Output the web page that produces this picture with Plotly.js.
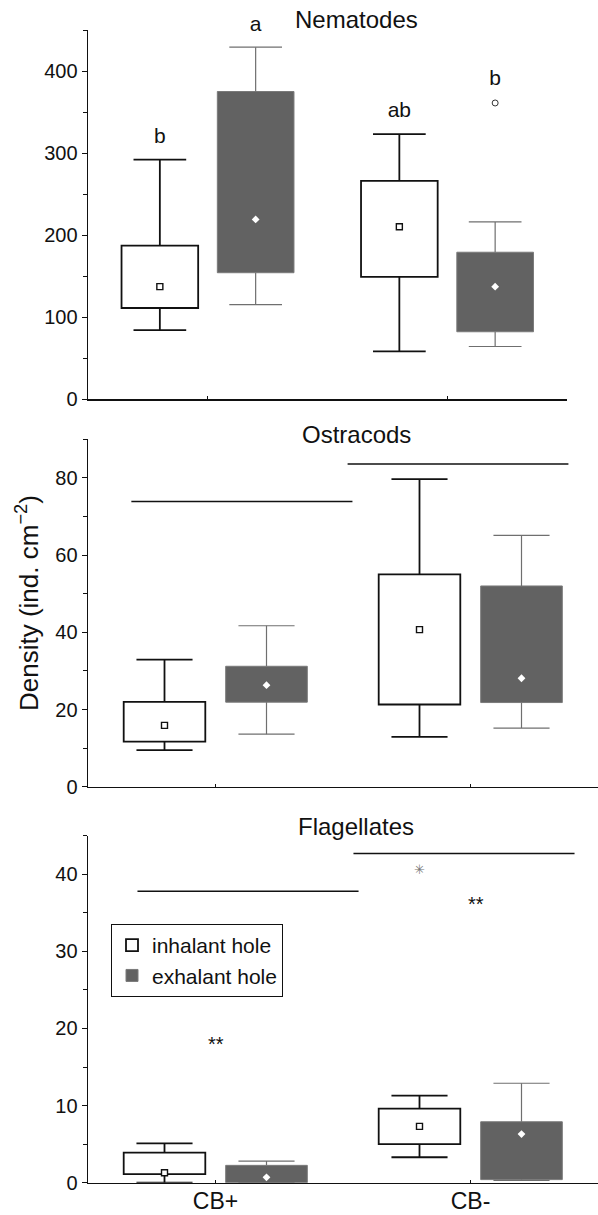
<!DOCTYPE html>
<html>
<head>
<meta charset="utf-8">
<script src="https://cdn.plot.ly/plotly-3.0.1.min.js"></script>
<style>html,body{margin:0;padding:0;background:#fff;}#chart{width:598px;height:1215px;}</style>
</head>
<body>
<div id="chart"></div>
<script>
// ---------- data ----------
const categories = ['CB+', 'CB-'];
const groupNames = ['inhalant hole', 'exhalant hole'];
const panelTitles = ['Nematodes', 'Ostracods', 'Flagellates'];

// Nematodes (values per category CB+, CB-)
const nemInhMin = [84, 58],   nemInhQ1 = [111, 149], nemInhMed = [137, 210], nemInhQ3 = [187, 266], nemInhMax = [292, 323];
const nemExhMin = [115, 64],  nemExhQ1 = [154, 82],  nemExhMed = [219, 137], nemExhQ3 = [375, 179], nemExhMax = [429, 216];
const nemExhOutlier = [null, 361];
const nemLetters = ['b', 'a', 'ab', 'b'];          // inh CB+, exh CB+, inh CB-, exh CB-
const nemLetterBase = [306, 442, 337, 377];        // level of the letters' baseline

// Ostracods
const ostInhMin = [9.5, 12.9],  ostInhQ1 = [11.7, 21.3], ostInhMed = [15.9, 40.7], ostInhQ3 = [22.0, 55.0], ostInhMax = [32.9, 79.7];
const ostExhMin = [13.6, 15.2], ostExhQ1 = [21.9, 21.8], ostExhMed = [26.3, 28.1], ostExhQ3 = [31.2, 52.0], ostExhMax = [41.7, 65.1];
const ostLineX0 = [-0.33, 0.518], ostLineX1 = [0.537, 1.384], ostLineY = [73.9, 83.6];

// Flagellates
const flaInhMin = [0, 3.3], flaInhQ1 = [1.1, 5.0], flaInhMed = [1.3, 7.3], flaInhQ3 = [3.9, 9.6], flaInhMax = [5.1, 11.3];
const flaExhMin = [0, 0.3], flaExhQ1 = [0, 0.4],   flaExhMed = [0.7, 6.3], flaExhQ3 = [2.25, 7.9], flaExhMax = [2.8, 12.9];
const flaLineX0 = [-0.306, 0.541], flaLineX1 = [0.561, 1.408], flaLineY = [37.8, 42.7];
const flaMarks = ['**', '✳', '**'], flaMarkX = [0, 0.8, 1.02], flaMarkY = [18.0, 40.6, 36.1];

// ---------- style ----------
const FONT = 'Liberation Sans, Arial, Helvetica, sans-serif';
const OFFSET = 0.2, BOXW = 0.32, CAP = 0.11;
const DARK = '#626262';
const catIdx = categories.map((c, i) => i);

function boxSet(axisNum, mins, q1, med, q3, max, isDark, showLegend) {
  const xa = axisNum === 1 ? 'x' : 'x' + axisNum;
  const ya = axisNum === 1 ? 'y' : 'y' + axisNum;
  const pos = catIdx.map(i => i + (isDark ? OFFSET : -OFFSET));
  const lineCol = isDark ? '#6f6f6f' : '#111';
  const lineW = isDark ? 1.2 : 1.8;
  const traces = [];
  const wx = [], wy = [];
  pos.forEach((p, i) => {
    wx.push(p, p, null, p - CAP, p + CAP, null, p, p, null, p - CAP, p + CAP, null);
    wy.push(q3[i], max[i], null, max[i], max[i], null, q1[i], mins[i], null, mins[i], mins[i], null);
  });
  traces.push({type: 'scatter', mode: 'lines', x: wx, y: wy, xaxis: xa, yaxis: ya,
    line: {color: lineCol, width: lineW}, showlegend: false, hoverinfo: 'skip', cliponaxis: false});
  traces.push({type: 'bar', x: pos, base: q1, y: q3.map((v, i) => v - q1[i]), width: BOXW,
    xaxis: xa, yaxis: ya, name: groupNames[isDark ? 1 : 0], legendgroup: groupNames[isDark ? 1 : 0],
    showlegend: showLegend,
    marker: {color: isDark ? DARK : '#ffffff', line: {color: isDark ? '#7a7a7a' : '#111', width: isDark ? 1 : 1.8}}});
  traces.push({type: 'scatter', mode: 'markers', x: pos, y: med, xaxis: xa, yaxis: ya, showlegend: false,
    cliponaxis: false,
    marker: isDark ? {symbol: 'diamond', size: 6, color: '#ffffff', line: {width: 0}}
                   : {symbol: 'square', size: 6, color: '#ffffff', line: {color: '#111', width: 1.4}}});
  return traces;
}

const data = [];
data.push(...boxSet(1, nemInhMin, nemInhQ1, nemInhMed, nemInhQ3, nemInhMax, false, false));
data.push(...boxSet(1, nemExhMin, nemExhQ1, nemExhMed, nemExhQ3, nemExhMax, true, false));
data.push({type: 'scatter', mode: 'markers', x: catIdx.map(i => i + OFFSET), y: nemExhOutlier,
  xaxis: 'x', yaxis: 'y', showlegend: false, cliponaxis: false,
  marker: {symbol: 'circle-open', size: 6, color: '#333', line: {width: 1}}});
data.push(...boxSet(2, ostInhMin, ostInhQ1, ostInhMed, ostInhQ3, ostInhMax, false, false));
data.push(...boxSet(2, ostExhMin, ostExhQ1, ostExhMed, ostExhQ3, ostExhMax, true, false));
data.push(...boxSet(3, flaInhMin, flaInhQ1, flaInhMed, flaInhQ3, flaInhMax, false, true));
data.push(...boxSet(3, flaExhMin, flaExhQ1, flaExhMed, flaExhQ3, flaExhMax, true, true));

// letters over nematode boxes (drawn just above their baseline level)
const letterX = [-OFFSET, OFFSET, 1 - OFFSET, 1 + OFFSET];
data.push({type: 'scatter', mode: 'text', x: letterX, y: nemLetterBase, text: nemLetters, xaxis: 'x', yaxis: 'y',
  textposition: 'top center', cliponaxis: false, showlegend: false, hoverinfo: 'skip',
  textfont: {family: FONT, size: 21, color: '#111'}});

function sigLines(axisNum, x0, x1, y) {
  const xs = [], ys = [];
  x0.forEach((v, i) => { xs.push(v, x1[i], null); ys.push(y[i], y[i], null); });
  return {type: 'scatter', mode: 'lines', x: xs, y: ys, xaxis: 'x' + axisNum, yaxis: 'y' + axisNum,
    line: {color: '#111', width: 1.5}, showlegend: false, hoverinfo: 'skip', cliponaxis: false};
}
data.push(sigLines(2, ostLineX0, ostLineX1, ostLineY));
data.push(sigLines(3, flaLineX0, flaLineX1, flaLineY));

// ---------- layout ----------
const H = 1183;
const pyToPaper = py => (H - py) / H;
const pxToPaper = px => (px - 88) / 510;

const annotations = [];
const titleY = [20, 435, 826];
panelTitles.forEach((t, i) => annotations.push({text: t, xref: 'paper', yref: 'paper', x: pxToPaper(356), y: pyToPaper(titleY[i]),
  xanchor: 'center', yanchor: 'middle', showarrow: false, font: {family: FONT, size: 24, color: '#111'}}));
flaMarks.forEach((t, i) => annotations.push({text: t, xref: 'x3', yref: 'y3', x: flaMarkX[i], y: flaMarkY[i],
  showarrow: false, font: {family: t === '**' ? FONT : 'DejaVu Sans, sans-serif', size: t === '**' ? 20 : 13, color: t === '**' ? '#111' : '#777'}}));
annotations.push({text: 'Density (ind. cm<sup>−2</sup>)', xref: 'paper', yref: 'paper', x: pxToPaper(27), y: pyToPaper(603),
  textangle: -90, xanchor: 'center', yanchor: 'middle', showarrow: false, font: {family: FONT, size: 26, color: '#111'}});

function xAxis(domainEnd, anchor, labels) {
  return {domain: [0, domainEnd], anchor: anchor, range: [-0.5, 1.5], tickmode: 'array', tickvals: catIdx,
    ticktext: categories, showticklabels: labels, ticks: 'inside', ticklen: 3, tickwidth: 1, tickcolor: '#111',
    showline: true, linecolor: '#111', linewidth: 1.6, showgrid: false, zeroline: false, ticklabelstandoff: -3,
    tickfont: {family: FONT, size: 23, color: '#111'}, fixedrange: true};
}
function yAxis(domain, anchor, range, dtick) {
  return {domain: domain, anchor: anchor, range: range, dtick: dtick, tick0: 0, ticks: 'outside', ticklen: 5,
    tickwidth: 1, tickcolor: '#111', showline: true, linecolor: '#111', linewidth: 1.4, showgrid: false,
    zeroline: false, tickfont: {family: FONT, size: 20, color: '#111'},
    minor: {dtick: dtick / 2, tick0: 0, ticks: 'outside', ticklen: 4, tickcolor: '#111', tickwidth: 1, showgrid: false},
    fixedrange: true};
}

const layout = {
  width: 598, height: 1215,
  margin: {l: 88, r: 0, t: 0, b: 32},
  paper_bgcolor: '#ffffff', plot_bgcolor: 'rgba(0,0,0,0)',
  barmode: 'overlay',
  font: {family: FONT, color: '#111'},
  xaxis: xAxis((567 - 88) / 510, 'y', false),
  yaxis: yAxis([pyToPaper(399), pyToPaper(30)], 'x', [0, 450], 100),
  xaxis2: xAxis(1, 'y2', false),
  yaxis2: yAxis([pyToPaper(786.7), pyToPaper(439.3)], 'x2', [0, 90], 20),
  xaxis3: xAxis(1, 'y3', true),
  yaxis3: yAxis([pyToPaper(1182.7), pyToPaper(835.7)], 'x3', [0, 45], 10),
  showlegend: true,
  legend: {x: pxToPaper(111), y: pyToPaper(924), xanchor: 'left', yanchor: 'top', bgcolor: '#ffffff',
    bordercolor: '#111', borderwidth: 1, font: {family: FONT, size: 21, color: '#111'}, traceorder: 'normal',
    itemclick: false, itemdoubleclick: false, tracegroupgap: 0},
  annotations: annotations
};

Plotly.newPlot('chart', data, layout, {displayModeBar: false, staticPlot: true});
</script>
</body>
</html>
